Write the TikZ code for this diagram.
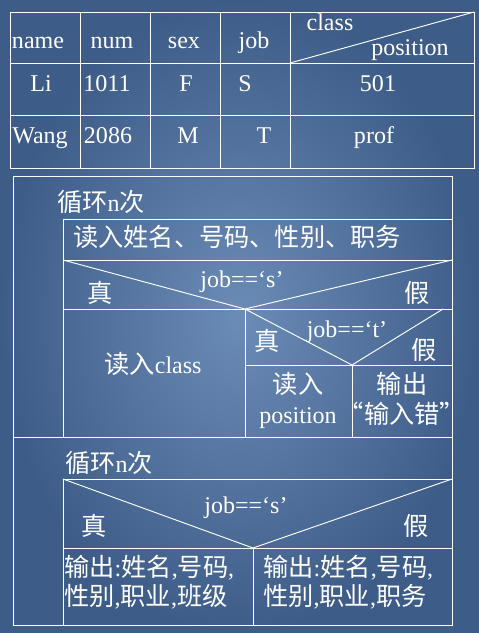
\documentclass[tikz,border=0pt]{standalone}
\usepackage{fontspec}
\setmainfont{Liberation Serif}
\newfontfamily\cjk[Scale=1.05]{Noto Sans CJK SC}
\newcommand\zh[1]{{\cjk #1}}
\usetikzlibrary{positioning}
\definecolor{BgDark}{HTML}{3E5C88}
\definecolor{BgLight}{HTML}{6C8CB8}
\tikzset{
  rule/.style={draw=white, line width=0.8pt},
  lbl/.style={
    text=white, inner sep=0pt, anchor=base,
    font=\fontsize{20.5}{25}\selectfont
  },
  lblw/.style={lbl, anchor=base west}
}

\begin{document}
\begin{tikzpicture}[x=0.03cm,y=-0.03cm]
  % background
  \shade[inner color=BgLight, outer color=BgDark] (0,0) rectangle (479,633);
  \useasboundingbox (0,0) rectangle (479,633);

  % --- table ---
  \draw[rule] (10,12) rectangle (474,168);
  \foreach \x in {80,150,220,290}
    \draw[rule] (\x,12) -- (\x,168);
  \foreach \y in {63,115}
    \draw[rule] (10,\y) -- (474,\y);
  \draw[rule] (290,63) -- (474,12);

  \node[lbl] (hName) at (38,48) {name};
  \node[lbl] (hNum)  at (112,48) {num};
  \node[lbl] (hSex)  at (184,48) {sex};
  \node[lbl] (hJob)  at (254,48) {job};
  \node[lbl] (hClass) at (330,30) {class};
  \node[lbl] (hPos)  at (410,55) {position};
  \node[lbl] (r1Name) at (41,91) {Li};
  \node[lbl] (r1Num)  at (107,91) {1011};
  \node[lbl] (r1Sex)  at (186,91) {F};
  \node[lbl] (r1Job)  at (245,91) {S};
  \node[lbl] (r1Cls)  at (378,91) {501};
  \node[lbl] (r2Name) at (40,143) {Wang};
  \node[lbl] (r2Num)  at (108,143) {2086};
  \node[lbl] (r2Sex)  at (188,143) {M};
  \node[lbl] (r2Job)  at (264,143) {T};
  \node[lbl] (r2Pos)  at (374,143) {prof};

  % --- N-S chart frame ---
  \draw[rule] (13,176) rectangle (452,625);
  \draw[rule] (13,437) -- (452,437);

  % first loop
  \node[lblw] (loopA) at (57,211) {\zh{循环}n\zh{次}};
  \draw[rule] (63,219) -- (452,219);
  \draw[rule] (63,219) -- (63,437);
  \node[lblw] (readAll) at (73,246) {\zh{读入姓名、号码、性别、职务}};
  \draw[rule] (63,260) -- (452,260);
  \draw[rule] (63,260) -- (245,309) -- (452,260);
  \node[lbl] (condS) at (242,287) {job==‘s’};
  \node[lbl] (yesS)  at (100,302) {\zh{真}};
  \node[lbl] (noS)   at (417,302) {\zh{假}};
  \draw[rule] (63,309) -- (452,309);
  \draw[rule] (245,309) -- (245,437);
  \node[lbl] (readCls) at (153,373) {\zh{读入}class};

  % nested decision
  \draw[rule] (245,309) -- (352,365) -- (443,309);
  \node[lbl] (condT) at (347,337) {job==‘t’};
  \node[lbl] (yesT)  at (267,350) {\zh{真}};
  \node[lbl] (noT)   at (424,359) {\zh{假}};
  \draw[rule] (245,365) -- (452,365);
  \draw[rule] (352,365) -- (352,437);
  \node[lbl] (readPosA) at (298,393) {\zh{读入}};
  \node[lbl] (readPosB) at (298,423) {position};
  \node[lbl] (errOutA)  at (402,393) {\zh{输出}};
  \node[lbl] (errOutB)  at (402,423) {\zh{“输入错”}};

  % second loop
  \node[lblw] (loopB) at (65,472) {\zh{循环}n\zh{次}};
  \draw[rule] (63,479) -- (452,479);
  \draw[rule] (63,479) -- (63,625);
  \draw[rule] (63,479) -- (253,548) -- (452,479);
  \node[lbl] (condS2) at (246,513) {job==‘s’};
  \node[lbl] (yesS2)  at (94,535) {\zh{真}};
  \node[lbl] (noS2)   at (416,535) {\zh{假}};
  \draw[rule] (63,548) -- (452,548);
  \draw[rule] (253,548) -- (253,625);
  \node[lblw] (outClsA) at (64,576) {\zh{输出}:\zh{姓名},\zh{号码},};
  \node[lblw] (outClsB) at (64,605) {\zh{性别},\zh{职业},\zh{班级}};
  \node[lblw] (outPosA) at (263,576) {\zh{输出}:\zh{姓名},\zh{号码},};
  \node[lblw] (outPosB) at (263,605) {\zh{性别},\zh{职业},\zh{职务}};
\end{tikzpicture}
\end{document}
